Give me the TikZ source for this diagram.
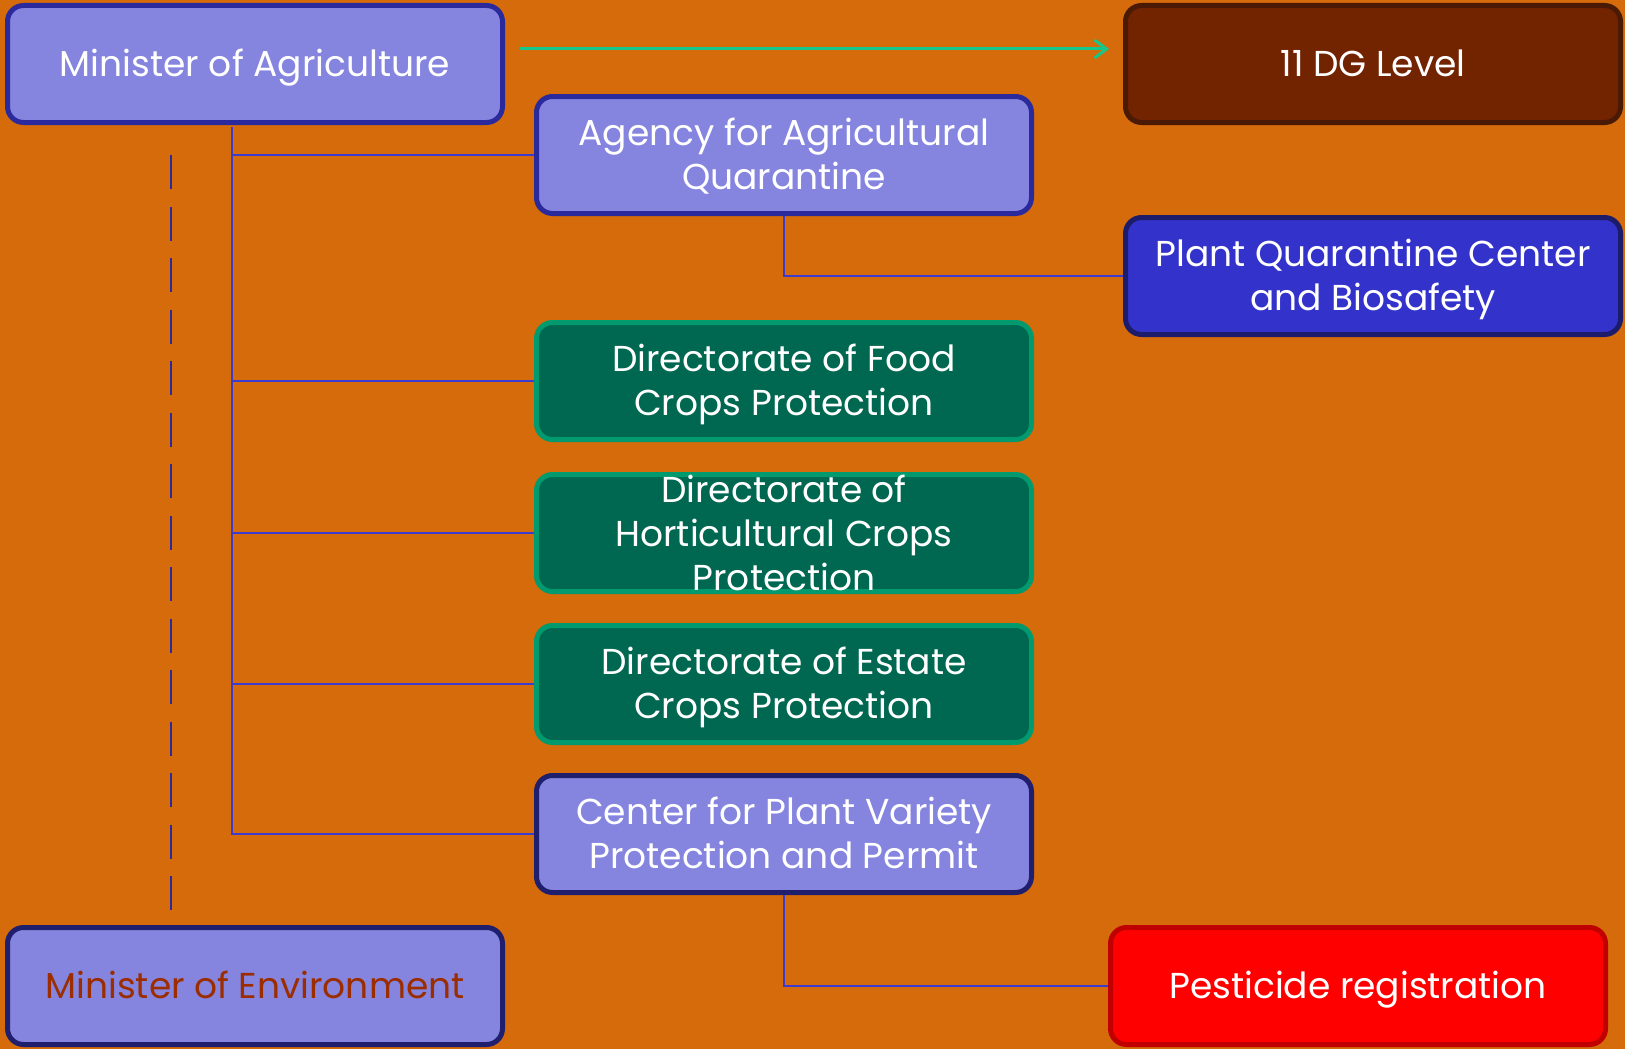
\documentclass[tikz,border=0pt]{standalone}
\usepackage{fontspec}
\setmainfont{Poppins}
\usetikzlibrary{arrows.meta,calc}
\definecolor{bgor}{HTML}{D56B0A}
\definecolor{lpfill}{HTML}{8585E0}
\definecolor{lpdraw}{HTML}{2A2A9C}
\definecolor{lpdrawdk}{HTML}{1F1F6E}
\definecolor{dgfill}{HTML}{722300}
\definecolor{dgdraw}{HTML}{4A1A05}
\definecolor{pqfill}{HTML}{3333CC}
\definecolor{pqdraw}{HTML}{1C1C6A}
\definecolor{grfill}{HTML}{006750}
\definecolor{grdraw}{HTML}{009A6E}
\definecolor{rdfill}{HTML}{FF0000}
\definecolor{rddraw}{HTML}{C00000}
\definecolor{conn}{HTML}{3B3BD0}
\definecolor{arrowgr}{HTML}{14C88C}
\definecolor{envtext}{HTML}{9B2D00}
\newcommand\lowtxt[1]{\raisebox{-4pt}[\height][\depth]{\begin{tabular}{@{}c@{}}#1\end{tabular}}}
\tikzset{
  boxbase/.style={rounded corners=16pt, line width=5pt, minimum width=495pt, minimum height=117pt,
    inner sep=0pt, text=white, font=\fontsize{36}{44}\selectfont},
  lpbox/.style={boxbase, fill=lpfill, draw=lpdraw},
  lpboxdk/.style={boxbase, fill=lpfill, draw=lpdrawdk},
  dgbox/.style={boxbase, fill=dgfill, draw=dgdraw},
  pqbox/.style={boxbase, fill=pqfill, draw=pqdraw},
  grbox/.style={boxbase, fill=grfill, draw=grdraw},
  rdbox/.style={boxbase, fill=rdfill, draw=rddraw},
  txtonly/.style={align=center, text=white, inner sep=0pt, font=\fontsize{36}{44}\selectfont},
  connline/.style={draw=conn, line width=2pt},
  dashline/.style={draw=lpdraw, line width=2.2pt, dash pattern=on 34pt off 17.5pt},
  grarrow/.style={draw=arrowgr, line width=3pt, -{Straight Barb[length=12pt,width=18pt,line width=3pt]}}
}
\begin{document}
\begin{tikzpicture}[x=1pt,y=-1pt]
\fill[bgor] (0,0) rectangle (1625,1049);
\useasboundingbox (0,0) rectangle (1625,1049);
% nodes
\node[lpbox] (ma) at (255,64) {\lowtxt{Minister of Agriculture}};
\node[dgbox] (dg) at (1373,64) {\lowtxt{11 DG Level}};
\node[lpbox] (ag) at (784,155) {\lowtxt{Agency for Agricultural\\Quarantine}};
\node[pqbox] (pq) at (1373,276) {\lowtxt{Plant Quarantine Center\\and Biosafety}};
\node[grbox] (df) at (784,381) {\lowtxt{Directorate of Food\\Crops Protection}};
\node[grbox] (dh) at (784,533) {};
\node[txtonly] (dht) at (dh.center) {Directorate of\\Horticultural Crops\\Protection};
\node[grbox] (de) at (784,684) {\lowtxt{Directorate of Estate\\Crops Protection}};
\node[lpboxdk] (cp) at (784,834) {\lowtxt{Center for Plant Variety\\Protection and Permit}};
\node[lpboxdk, text=envtext] (me) at (255,986) {\lowtxt{Minister of Environment}};
\node[rdbox] (pr) at (1358,986) {\lowtxt{Pesticide registration}};
% coordinates
\coordinate (trunk) at (232,127);
\coordinate (dtop) at (171,155);
\coordinate (dbot) at (171,910);
\coordinate (arrs) at (520,49);
\coordinate (arre) at (1109,49);
% connectors
\draw[connline] (trunk) |- (ag.west);
\draw[connline] (trunk) |- (df.west);
\draw[connline] (trunk) |- (dh.west);
\draw[connline] (trunk) |- (de.west);
\draw[connline] (trunk) |- (cp.west);
\draw[connline] (ag.south) |- (pq.west);
\draw[connline] (cp.south) |- (pr.west);
\draw[dashline] (dtop) -- (dbot);
\draw[grarrow] (arrs) -- (arre);
\end{tikzpicture}
\end{document}
